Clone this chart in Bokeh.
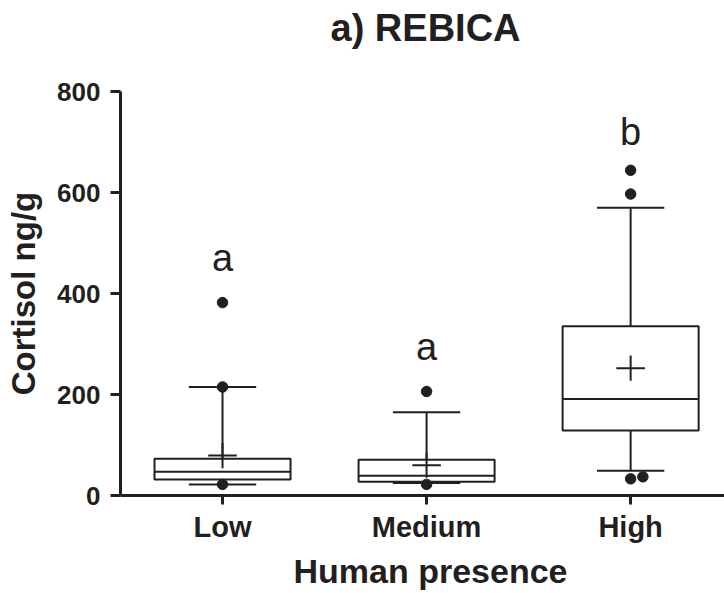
from bokeh.plotting import figure
from bokeh.models import FixedTicker, Title, ColumnDataSource
from bokeh.core.properties import value
from bokeh.embed import file_html
from bokeh.resources import INLINE

# ---- data ----
groups = ["Low", "Medium", "High"]
q1 = [31.5, 27, 128.5]
median = [47, 39, 191]
q3 = [73, 71, 335]
mean = [79, 60, 252]
whisker_low = [22, 25, 49]
whisker_high = [215, 165, 570]
outlier_group = [1, 1, 1, 2, 2, 3, 3, 3, 3]
outlier_value = [382, 215, 22, 206, 22, 644, 597, 33, 37]
outlier_jitter = [0, 0, 0, 0, 0, 0, 0, 0, 0.06]
letters = ["a", "a", "b"]
letter_y = [470, 295, 719]
y_ticks = [0, 200, 400, 600, 800]
title_text = "a) REBICA"
x_label = "Human presence"
y_label = "Cortisol ng/g"

INK = "#231f20"
FONT = "Liberation Sans"
BOX_HALF = 1 / 3
CAP_HALF = 0.165
MEAN_HALF_X = 0.07
MEAN_HALF_Y = 25

xs = [i + 1 for i in range(len(groups))]

p = figure(width=724, height=593, x_range=(0.5, 3.46), y_range=(0, 800),
           output_backend="svg", toolbar_location=None,
           min_border_left=120, min_border_right=0, min_border_top=91, min_border_bottom=96)
p.background_fill_color = "white"
p.border_fill_color = "white"
p.outline_line_color = None
p.grid.visible = False

src = ColumnDataSource(dict(
    x=xs,
    left=[x - BOX_HALF for x in xs], right=[x + BOX_HALF for x in xs],
    cl=[x - CAP_HALF for x in xs], cr=[x + CAP_HALF for x in xs],
    ml=[x - MEAN_HALF_X for x in xs], mr=[x + MEAN_HALF_X for x in xs],
    q1=q1, q3=q3, med=median, mean=mean,
    mlo=[m - MEAN_HALF_Y for m in mean], mhi=[m + MEAN_HALF_Y for m in mean],
    wlo=whisker_low, whi=whisker_high,
))

# whiskers
p.segment("x", "q3", "x", "whi", source=src, line_color=INK, line_width=2)
p.segment("x", "q1", "x", "wlo", source=src, line_color=INK, line_width=2)
p.segment("cl", "whi", "cr", "whi", source=src, line_color=INK, line_width=2)
p.segment("cl", "wlo", "cr", "wlo", source=src, line_color=INK, line_width=2)
# boxes
p.quad(left="left", right="right", bottom="q1", top="q3", source=src,
       fill_color="white", line_color=INK, line_width=2)
p.segment("left", "med", "right", "med", source=src, line_color=INK, line_width=2)
# mean "+"
p.segment("ml", "mean", "mr", "mean", source=src, line_color=INK, line_width=2)
p.segment("x", "mlo", "x", "mhi", source=src, line_color=INK, line_width=2)

# outliers
p.scatter([g + j for g, j in zip(outlier_group, outlier_jitter)], outlier_value,
          size=10.5, color=INK)

# significance letters
p.text(xs, letter_y, text=letters, text_align="center", text_baseline="alphabetic",
       text_font=value(FONT), text_font_size="38px", text_color=INK)

# axes
for ax in (p.xaxis[0], p.yaxis[0]):
    ax.axis_line_width = 3
    ax.axis_line_color = INK
    ax.major_tick_line_width = 3
    ax.major_tick_line_color = INK
    ax.major_tick_in = 0
    ax.minor_tick_line_color = None
    ax.major_label_text_font = FONT
    ax.major_label_text_font_style = "bold"
    ax.major_label_text_color = INK
    ax.axis_label_text_font = FONT
    ax.axis_label_text_font_style = "bold"
    ax.axis_label_text_color = INK

p.yaxis.ticker = FixedTicker(ticks=y_ticks)
p.yaxis.major_tick_out = 10
p.yaxis.major_label_standoff = 10
p.yaxis.major_label_text_font_size = "26px"
p.yaxis.axis_label = y_label
p.yaxis.axis_label_text_font_size = "33px"
p.yaxis.axis_label_standoff = 12

p.xaxis.ticker = FixedTicker(ticks=xs)
p.xaxis.major_label_overrides = {x: g for x, g in zip(xs, groups)}
p.xaxis.major_tick_out = 9
p.xaxis.major_label_standoff = 6
p.xaxis.major_label_text_font_size = "29px"

p.add_layout(Title(text=x_label, align="left", offset=173, vertical_align="bottom",
                   text_font=FONT, text_font_size="34px", text_font_style="bold",
                   text_color=INK, standoff=8), "below")

# title (above) with a blank spacer panel between it and the plot frame
p.title.text = ""
p.add_layout(Title(text=" ", text_font_size="10px", text_color="white", standoff=24), "above")
p.add_layout(Title(text=title_text, align="left", offset=210, vertical_align="top",
                   text_font=FONT, text_font_size="38px", text_font_style="bold",
                   text_color=INK, standoff=8), "above")

open("out.html", "w").write(file_html(p, INLINE))
